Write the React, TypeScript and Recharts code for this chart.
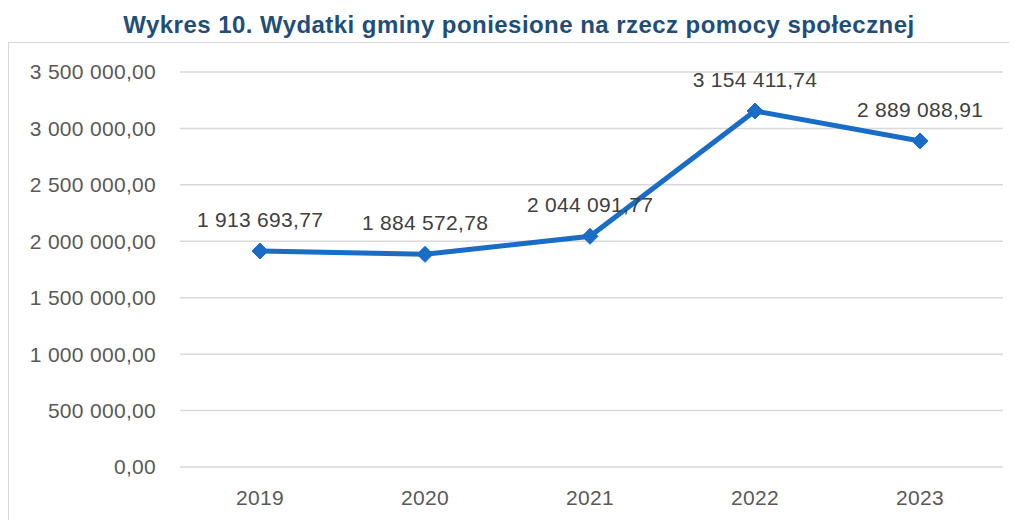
import React from "react";
import { LineChart, Line, XAxis, YAxis, CartesianGrid, LabelList } from "recharts";

const years = ["2019", "2020", "2021", "2022", "2023"];
const expenses = [1913693.77, 1884572.78, 2044091.77, 3154411.74, 2889088.91];
const yTicks = [0, 500000, 1000000, 1500000, 2000000, 2500000, 3000000, 3500000];
const title = "Wykres 10. Wydatki gminy poniesione na rzecz pomocy społecznej";

const data = years.map((y, i) => ({ year: y, value: expenses[i] }));

const fmt = (v: number) => {
  const [int, dec] = Number(v).toFixed(2).split(".");
  return int.replace(/\B(?=(\d{3})+(?!\d))/g, " ") + "," + dec;
};

const FONT = "'Liberation Sans', Arial, sans-serif";
const LINE = "#1A6DC6";

const Diamond = (props: any) => {
  const { cx, cy } = props;
  if (cx == null || cy == null) return null;
  const r = 8;
  return (
    <polygon
      points={`${cx},${cy - r} ${cx + r},${cy} ${cx},${cy + r} ${cx - r},${cy}`}
      fill={LINE}
      stroke={LINE}
      strokeWidth={1}
    />
  );
};

export default function App() {
  return (
    <div style={{ position: "relative", width: 1009, height: 512, overflow: "hidden", fontFamily: FONT }}>
      <div
        style={{
          position: "absolute",
          left: 0,
          top: 34,
          width: 1200,
          height: 700,
          border: "1.5px solid #D9D9D9",
          boxSizing: "border-box",
        }}
      />
      <div
        style={{
          position: "absolute",
          left: 0,
          top: 3,
          width: 1022,
          textAlign: "center",
          fontWeight: 700,
          fontSize: 24,
          color: "#1F4E79",
          letterSpacing: 0.45,
          whiteSpace: "nowrap",
        }}
      >
        {title}
      </div>
      <div style={{ position: "absolute", left: 0, top: 0 }}>
        <LineChart width={1009} height={512} data={data} margin={{ top: 64, right: 14, bottom: 13, left: 0 }}>
          <CartesianGrid vertical={false} stroke="#D9D9D9" strokeWidth={1.5} />
          <XAxis
            dataKey="year"
            axisLine={false}
            tickLine={false}
            tickSize={0}
            tickMargin={23}
            height={40}
            padding={{ left: 80, right: 83 }}
            tick={{ fill: "#595959", fontSize: 21, fontFamily: FONT, letterSpacing: 0.3 }}
          />
          <YAxis
            domain={[0, 3500000]}
            ticks={yTicks}
            tickFormatter={fmt}
            axisLine={false}
            tickLine={false}
            tickSize={0}
            tickMargin={24}
            width={172}
            interval={0}
            tick={{ fill: "#595959", fontSize: 21, fontFamily: FONT, letterSpacing: 0.3 }}
          />
          <Line
            type="linear"
            dataKey="value"
            stroke={LINE}
            strokeWidth={5}
            dot={<Diamond />}
            activeDot={false}
            isAnimationActive={false}
          >
            <LabelList
              dataKey="value"
              position="top"
              offset={24}
              formatter={(v: any) => fmt(Number(v))}
              style={{ fill: "#404040", fontSize: 21, fontFamily: FONT, letterSpacing: 0.3 }}
            />
          </Line>
        </LineChart>
      </div>
    </div>
  );
}
